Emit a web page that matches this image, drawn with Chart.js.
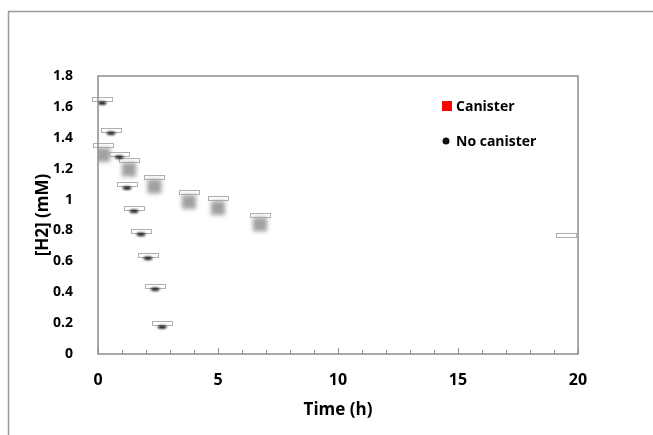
<!DOCTYPE html>
<html>
<head>
<meta charset="utf-8">
<script src="https://cdn.jsdelivr.net/npm/chart.js@4/dist/chart.umd.min.js"></script>
<style>
  html, body { margin: 0; padding: 0; background: #fff; }
  #wrap { width: 653px; height: 435px; }
</style>
</head>
<body>
<div id="wrap"><canvas id="h2Chart" width="653" height="435"></canvas></div>
<script>
// Datos
const canisterTime = [0.21, 1.29, 2.35, 3.79, 5.0, 6.75, 19.5];
const canisterH2   = [1.29, 1.195, 1.085, 0.985, 0.945, 0.84, 0.71];
const canisterErr  = [0.075, 0.075, 0.075, 0.075, 0.075, 0.075, 0.075];

const noCanisterTime = [0.17, 0.54, 0.88, 1.21, 1.5, 1.79, 2.08, 2.38, 2.67];
const noCanisterH2   = [1.625, 1.43, 1.275, 1.075, 0.925, 0.775, 0.62, 0.42, 0.175];
const noCanisterErr  = [0.036, 0.036, 0.036, 0.036, 0.036, 0.036, 0.036, 0.036, 0.036];

const xTickMax = 20;
const yTickMax = 1.8;

const FONT = '"Open Sans", "Noto Sans", sans-serif';
const AXIS = '#8c8c8c';

// marcadores difuminados (como en la imagen original)
function blurredSquare() {
    const c = document.createElement('canvas');
    c.width = 26; c.height = 26;
    const g = c.getContext('2d');
    g.filter = 'blur(2px)';
    g.fillStyle = '#a0a0a0';
    g.fillRect(6, 6, 14, 14);
    return c;
}
function blurredDot() {
    const c = document.createElement('canvas');
    c.width = 16; c.height = 10;
    const g = c.getContext('2d');
    g.filter = 'blur(0.8px)';
    g.fillStyle = '#111';
    g.beginPath();
    g.ellipse(8, 5, 4.5, 1.8, 0, 0, Math.PI * 2);
    g.fill();
    return c;
}

const toPoints = (xs, ys) => xs.map((x, i) => ({ x: x, y: ys[i] }));

// barras de error dibujadas como pequeñas cajas
const errorCaps = {
    id: 'errorCaps',
    beforeDatasetsDraw(chart) {
        const { ctx, scales: { x, y } } = chart;
        ctx.save();
        ctx.fillStyle = '#fff';
        ctx.strokeStyle = '#b0b0b0';
        ctx.lineWidth = 1;
        chart.data.datasets.forEach(ds => {
            if (!ds.err) return;
            ds.data.forEach((p, i) => {
                const px = Math.round(x.getPixelForValue(p.x));
                const py = Math.round(y.getPixelForValue(p.y + ds.err[i]));
                ctx.fillRect(px - 10, py, 21, 5);
                ctx.strokeRect(px - 10 + 0.5, py + 0.5, 20, 4);
            });
        });
        ctx.restore();
    }
};

// marco, ticks hacia adentro y leyenda
const frame = {
    id: 'frame',
    beforeDraw(chart) {
        const { ctx, width, height } = chart;
        ctx.save();
        ctx.fillStyle = '#fff';
        ctx.fillRect(0, 0, width, height);
        ctx.strokeStyle = '#9a9a9a';
        ctx.lineWidth = 1.5;
        ctx.beginPath();
        ctx.moveTo(8.5, height);
        ctx.lineTo(8.5, 11.5);
        ctx.lineTo(width, 11.5);
        ctx.stroke();
        ctx.restore();
    },
    afterDraw(chart) {
        const { ctx, chartArea: a, scales: { x } } = chart;
        ctx.save();
        ctx.strokeStyle = AXIS;
        ctx.lineWidth = 1.5;
        ctx.strokeRect(a.left, a.top, a.right - a.left, a.bottom - a.top);
        ctx.lineWidth = 1;
        x.ticks.forEach(t => {
            const px = Math.round(x.getPixelForValue(t.value)) + 0.5;
            const len = t.value % 5 === 0 ? 6 : 4;
            ctx.beginPath();
            ctx.moveTo(px, a.bottom);
            ctx.lineTo(px, a.bottom - len);
            ctx.stroke();
        });

        // leyenda
        ctx.font = 'bold 14px ' + FONT;
        ctx.textBaseline = 'middle';
        const items = chart.options.plugins.frame.legend;
        items.forEach((it, i) => {
            const ds = chart.data.datasets[it.index];
            const ly = 106 + i * 35;
            ctx.fillStyle = it.color;
            if (it.shape === 'square') {
                ctx.fillRect(442, ly - 5, 10, 10);
            } else {
                ctx.beginPath();
                ctx.arc(446, ly, 3.5, 0, Math.PI * 2);
                ctx.fill();
            }
            ctx.fillStyle = '#000';
            ctx.fillText(ds.label, 456, ly + 1);
        });
        ctx.restore();
    }
};

new Chart(document.getElementById('h2Chart'), {
    type: 'scatter',
    data: {
        datasets: [{
            label: 'Canister',
            data: toPoints(canisterTime, canisterH2),
            err: canisterErr,
            pointStyle: blurredSquare(),
            pointRadius: ctx => ctx.dataIndex === canisterTime.length - 1 ? 0 : 8
        }, {
            label: 'No canister',
            data: toPoints(noCanisterTime, noCanisterH2),
            err: noCanisterErr,
            pointStyle: blurredDot(),
            pointRadius: 6
        }]
    },
    plugins: [errorCaps, frame],
    options: {
        responsive: false,
        animation: false,
        events: [],
        layout: { padding: { left: 0, top: 76, right: 75, bottom: 0 } },
        plugins: {
            legend: { display: false },
            tooltip: { enabled: false },
            frame: {
                legend: [
                    { index: 0, shape: 'square', color: '#ff0000' },
                    { index: 1, shape: 'dot', color: '#111' }
                ]
            }
        },
        scales: {
            x: {
                type: 'linear',
                min: 0,
                max: xTickMax,
                grid: { display: false, drawTicks: false },
                border: { display: false },
                afterFit: s => { s.height = 81; },
                ticks: {
                    stepSize: 1,
                    autoSkip: false,
                    maxRotation: 0,
                    padding: 17,
                    color: '#000',
                    font: { family: FONT, size: 16, weight: 'bold' },
                    callback: v => v % 5 === 0 ? String(v) : ''
                },
                title: {
                    display: true,
                    text: 'Time (h)',
                    color: '#000',
                    padding: { top: 0, bottom: 15 },
                    font: { family: FONT, size: 17, weight: 'bold' }
                }
            },
            y: {
                min: 0,
                max: yTickMax,
                grid: { display: false, drawTicks: false },
                border: { display: false },
                afterFit: s => { s.width = 98; },
                ticks: {
                    stepSize: 0.2,
                    padding: 25,
                    color: '#000',
                    font: { family: FONT, size: 14, weight: 'bold' },
                    callback: v => String(+v.toFixed(1))
                },
                title: {
                    display: true,
                    text: '[H2] (mM)',
                    color: '#000',
                    padding: { top: 33, bottom: 0 },
                    font: { family: FONT, size: 17, weight: 'bold' }
                }
            }
        }
    }
});
</script>
</body>
</html>
